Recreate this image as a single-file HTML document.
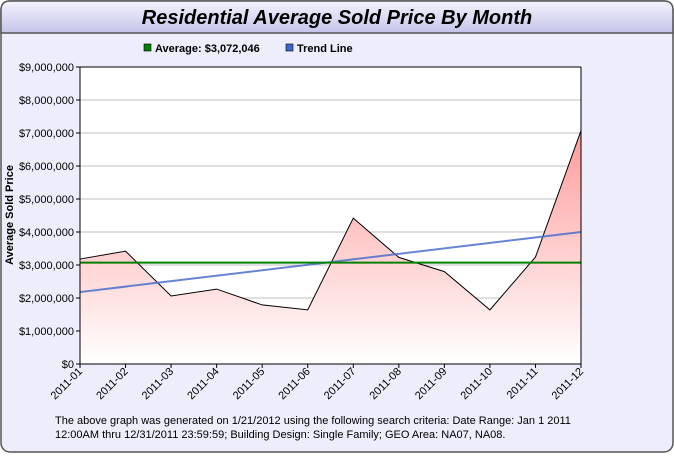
<!DOCTYPE html>
<html><head><meta charset="utf-8"><style>
body{margin:0;width:674px;height:453px;background:#fff;font-family:"Liberation Sans",sans-serif;overflow:hidden}
</style></head><body>
<svg width="674" height="453" xmlns="http://www.w3.org/2000/svg">
<defs>
<linearGradient id="tb" x1="0" y1="0" x2="0" y2="1"><stop offset="0" stop-color="#f4f4ff"/><stop offset="0.5" stop-color="#dcdcf4"/><stop offset="1" stop-color="#c4c4e8"/></linearGradient>
<linearGradient id="fill" x1="0" y1="67" x2="0" y2="364" gradientUnits="userSpaceOnUse"><stop offset="0" stop-color="#ff8080"/><stop offset="1" stop-color="#ffffff"/></linearGradient>
</defs>
<rect x="1" y="1" width="672" height="451" rx="9" fill="#ededfb" stroke="#555" stroke-width="1.5"/>
<path d="M1,33 L1,10 Q1,1 10,1 L664,1 Q673,1 673,10 L673,33 Z" fill="url(#tb)" stroke="#555" stroke-width="1.5"/>
<line x1="1" y1="33" x2="673" y2="33" stroke="#555"/>
<text x="337" y="24" text-anchor="middle" font-size="20" font-weight="bold" font-style="italic" fill="#000">Residential Average Sold Price By Month</text>
<g>
<rect x="144" y="44" width="7" height="7" fill="#008000" stroke="#000" stroke-width="0.6"/>
<text x="155" y="52" font-size="11" font-weight="bold">Average: $3,072,046</text>
<rect x="286" y="44" width="7" height="7" fill="#3a66cc" stroke="#000" stroke-width="0.6"/>
<text x="297" y="52" font-size="11" font-weight="bold">Trend Line</text>
</g>
<rect x="80" y="67" width="501" height="297" fill="#fff"/>
<g id="grid"></g><g id="marks"></g><g id="axes"></g>
<text transform="translate(13,215) rotate(-90)" text-anchor="middle" font-size="11" font-weight="bold">Average Sold Price</text>
<text x="55" y="424" font-size="11">The above graph was generated on 1/21/2012 using the following search criteria: Date Range: Jan  1 2011</text>
<text x="55" y="438" font-size="11">12:00AM thru 12/31/2011 23:59:59; Building Design: Single Family; GEO Area: NA07, NA08.</text>
</svg>
<script>
const categories=["2011-01","2011-02","2011-03","2011-04","2011-05","2011-06","2011-07","2011-08","2011-09","2011-10","2011-11","2011-12"];
const prices=[3180000,3420000,2060000,2270000,1790000,1640000,4420000,3230000,2800000,1640000,3240000,7070000];
const average=[3072046];
const trendEnds=[2180000,4000000];
const yTicks=[0,1000000,2000000,3000000,4000000,5000000,6000000,7000000,8000000,9000000];
const NS="http://www.w3.org/2000/svg";
const X0=80,X1=581,Y0=364,Y1=67,YMAX=9000000;
const xs=i=>X0+(X1-X0)*i/(categories.length-1);
const ys=v=>Y0-(Y0-Y1)*v/YMAX;
function mk(p,t,a){const e=document.createElementNS(NS,t);for(const k in a)e.setAttribute(k,a[k]);p.appendChild(e);return e;}
const grid=document.getElementById('grid'),marks=document.getElementById('marks'),axes=document.getElementById('axes');
yTicks.forEach(v=>{
 if(v>0&&v<YMAX){const g=mk(grid,'line',{x1:X0,x2:X1,y1:ys(v),y2:ys(v),stroke:'#c0c0c0'});
 
 }
 mk(axes,'line',{x1:X0-4,x2:X0,y1:ys(v),y2:ys(v),stroke:'#000'});
 const t=mk(axes,'text',{x:X0-6,y:ys(v)+4,'text-anchor':'end','font-size':'11'});
 t.textContent='$'+v.toLocaleString('en-US');
 
 
});
let d='M'+xs(0)+','+Y0;prices.forEach((v,i)=>d+=' L'+xs(i)+','+ys(v));d+=' L'+xs(prices.length-1)+','+Y0+' Z';
const area=mk(marks,'path',{d:d,fill:'url(#fill)',stroke:'none'});


const line=mk(marks,'polyline',{points:prices.map((v,i)=>xs(i)+','+ys(v)).join(' '),fill:'none',stroke:'#000','stroke-width':1});


const tr=mk(marks,'line',{x1:X0,y1:ys(trendEnds[0]),x2:X1,y2:ys(trendEnds[1]),stroke:'#4a6fcc','stroke-width':2,'stroke-opacity':0.85});


const av=mk(marks,'line',{x1:X0,y1:ys(average[0]),x2:X1,y2:ys(average[0]),stroke:'#008000','stroke-width':2});


mk(axes,'line',{x1:X0,y1:Y1,x2:X0,y2:Y0,stroke:'#000'});
mk(axes,'line',{x1:X0,y1:Y0,x2:X1,y2:Y0,stroke:'#000'});
mk(axes,'line',{x1:X1,y1:Y1,x2:X1,y2:Y0,stroke:'#000'});
mk(axes,'line',{x1:X0,y1:Y1,x2:X1,y2:Y1,stroke:'#000'});
categories.forEach((c,i)=>{
 mk(axes,'line',{x1:xs(i),x2:xs(i),y1:Y0,y2:Y0+4,stroke:'#000'});
 const t=mk(axes,'text',{transform:`translate(${xs(i)+3},${Y0+8}) rotate(-45)`,'text-anchor':'end','font-size':'11'});
 t.textContent=c;
 
 
});
</script>
</body></html>
